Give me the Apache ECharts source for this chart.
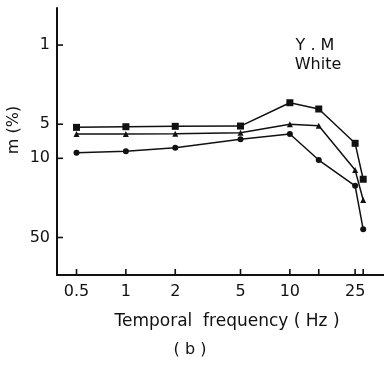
<!DOCTYPE html>
<html>
<head>
<meta charset="utf-8">
<script src="https://cdn.jsdelivr.net/npm/echarts@6/dist/echarts.min.js"></script>
<style>html,body{margin:0;padding:0;background:#fff}#c{width:384px;height:370px}</style>
</head>
<body>
<div id="c"></div>
<script>
// Data (original units)
var frequencies = [0.5, 1, 2, 5, 10, 15, 25, 28];
var squareSeries = [5.33, 5.26, 5.22, 5.19, 3.23, 3.67, 7.37, 15.3];
var triangleSeries = [6.1, 6.1, 6.06, 5.94, 5.01, 5.15, 12.7, 23.3];
var circleSeries = [8.93, 8.67, 8.06, 6.8, 6.1, 10.35, 17.5, 42.3];
var xTickValues = [0.5, 1, 2, 5, 10, 15, 25, 28];
var xLabelValues = [0.5, 1, 2, 5, 10, 25];
var yTickValues = [1, 5, 10, 50];

var X_MIN = -0.42, X_MAX = 1.574, Y_MIN = -0.327, Y_MAX = 2.03;
var L = function (v) { return Math.log10(v); };
function pairs(ys) { return frequencies.map(function (f, i) { return [L(f), L(ys[i])]; }); }
function back(v) { var r = Math.pow(10, v); return String(Math.round(r * 10) / 10); }

var font = '"DejaVu Sans", sans-serif';
var chart = echarts.init(document.getElementById('c'), null, {renderer: 'canvas'});
function lineSeries(ys, sym, size) {
  return {
    type: 'line', data: pairs(ys), symbol: sym, symbolSize: size,
    lineStyle: {color: '#111', width: 1.5}, itemStyle: {color: '#111'},
    animation: false, z: 3
  };
}
var tickStyle = {stroke: '#111', lineWidth: 1.6};
chart.setOption({
  animation: false,
  backgroundColor: '#fff',
  grid: {left: 57, right: 0, top: 8, bottom: 95, containLabel: false, outerBoundsMode: 'none'},
  xAxis: {
    type: 'value', min: X_MIN, max: X_MAX,
    axisLine: {show: true, onZero: false, lineStyle: {color: '#111', width: 2}},
    axisTick: {show: false},
    axisLabel: {customValues: xLabelValues.map(L), formatter: back, color: '#111', fontSize: 16, fontFamily: font, margin: 9},
    splitLine: {show: false}
  },
  yAxis: {
    type: 'value', inverse: true, min: Y_MIN, max: Y_MAX,
    axisLine: {show: true, onZero: false, lineStyle: {color: '#111', width: 2}},
    axisTick: {show: false},
    axisLabel: {customValues: yTickValues.map(L), formatter: back, color: '#111', fontSize: 16, fontFamily: font, margin: 7},
    splitLine: {show: false}
  },
  series: [
    lineSeries(squareSeries, 'rect', 7),
    lineSeries(triangleSeries, 'triangle', 6),
    lineSeries(circleSeries, 'circle', 6),
    {
      type: 'custom', clip: false, silent: true, z: 4,
      data: xTickValues.map(function (v) { return [L(v)]; }),
      renderItem: function (params, api) {
        var p = api.coord([api.value(0), Y_MAX]);
        return {type: 'line', shape: {x1: p[0], y1: p[1], x2: p[0], y2: p[1] - 6}, style: tickStyle};
      }
    },
    {
      type: 'custom', clip: false, silent: true, z: 4,
      data: yTickValues.map(function (v) { return [L(v)]; }),
      renderItem: function (params, api) {
        var p = api.coord([X_MIN, api.value(0)]);
        return {type: 'line', shape: {x1: p[0], y1: p[1], x2: p[0] + 6, y2: p[1]}, style: tickStyle};
      },
      encode: {x: [], y: 0}
    }
  ],
  graphic: [
    {type: 'text', x: 315, y: 46, style: {text: 'Y . M', font: '16px ' + font, fill: '#111', align: 'center', verticalAlign: 'middle'}},
    {type: 'text', x: 318, y: 65, style: {text: 'White', font: '16px ' + font, fill: '#111', align: 'center', verticalAlign: 'middle'}},
    {type: 'text', x: 14, y: 130, rotation: Math.PI / 2, style: {text: 'm (%)', font: '16px ' + font, fill: '#111', align: 'center', verticalAlign: 'middle'}},
    {type: 'text', x: 227, y: 322, style: {text: 'Temporal  frequency ( Hz )', font: '17px ' + font, fill: '#111', align: 'center', verticalAlign: 'middle'}},
    {type: 'text', x: 190, y: 350, style: {text: '( b )', font: '16px ' + font, fill: '#111', align: 'center', verticalAlign: 'middle'}}
  ]
});
</script>
</body>
</html>
